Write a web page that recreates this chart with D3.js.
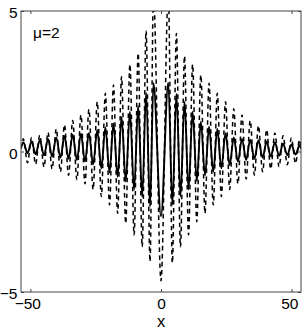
<!DOCTYPE html>
<html><head><meta charset="utf-8">
<script src="https://cdn.jsdelivr.net/npm/d3@7"></script>
<style>
html,body{margin:0;padding:0;background:#fff;}
svg{display:block;font-family:"Liberation Sans",Arial,sans-serif;}
</style></head>
<body>
<svg id="c" width="305" height="330"></svg>
<script>
// extremum positions (shared by both curves)
const xs = [-53.6,-52.7,-51.1,-49.55,-48.0,-46.4,-44.8,-43.25,-41.7,-40.1,-38.5,-36.95,-35.4,-33.8,-32.2,-30.65,-29.1,-27.6,-26.0,-24.4,-22.85,-21.3,-19.7,-18.2,-16.6,-15.1,-13.5,-11.9,-10.3,-8.75,-7.2,-5.7,-4.2,-2.9,0.0,2.8,4.35,5.9,7.45,9.0,10.55,12.1,13.7,15.25,16.85,18.4,20.0,21.55,23.1,24.7,26.3,27.85,29.45,31.0,32.6,34.15,35.75,37.3,38.9,40.45,42.0,43.6,45.2,46.75,48.35,49.9,51.5,53.05,53.6];
// solid curve values
const solidVals = [0.12,0.33,-0.06,0.36,-0.1,0.4,-0.14,0.45,-0.18,0.5,-0.22,0.55,-0.26,0.6,-0.3,0.63,-0.36,0.66,-0.46,0.76,-0.6,0.86,-0.75,1.0,-0.9,1.22,-1.07,1.42,-1.37,1.62,-1.62,2.1,-1.96,2.43,-2.3,2.45,-1.9,2.06,-1.6,1.77,-1.35,1.42,-1.05,1.06,-0.85,0.88,-0.72,0.8,-0.6,0.65,-0.48,0.5,-0.36,0.45,-0.3,0.42,-0.26,0.4,-0.22,0.36,-0.18,0.32,-0.15,0.28,-0.13,0.25,-0.11,0.22,0.1];
// dashed curve values
const dashedVals = [0.1,0.45,-0.4,0.5,-0.45,0.58,-0.55,0.68,-0.62,0.8,-0.72,0.95,-0.85,1.1,-1.0,1.3,-1.15,1.5,-1.35,1.77,-1.6,2.07,-1.9,2.37,-2.2,2.66,-2.56,3.1,-2.97,3.5,-3.39,4.3,-3.92,5.6,-4.6,5.6,-3.97,4.2,-3.39,3.4,-2.97,3.1,-2.5,2.72,-2.2,2.43,-1.9,2.07,-1.6,1.77,-1.35,1.52,-1.15,1.3,-0.98,1.1,-0.84,0.92,-0.72,0.78,-0.62,0.66,-0.54,0.56,-0.47,0.48,-0.42,0.42,0.1];
const xTicks = [-50,0,50];
const yTicks = [-5,0,5];
const xDomain = [-53.6,53.6];
const yDomain = [-5,5];
const labelText = "μ=2";
const xLabel = "x";

const svg = d3.select("#c");
const L=21,R=301,T=11,B=292;
const x = d3.scaleLinear().domain(xDomain).range([L,R]);
const y = d3.scaleLinear().domain(yDomain).range([B,T]);

svg.append("defs").append("clipPath").attr("id","clip")
  .append("rect").attr("x",L).attr("y",T).attr("width",R-L).attr("height",B-T);

const line = d3.line().x(d=>x(d[0])).y(d=>y(d[1])).curve(d3.curveMonotoneX);
const solid = xs.map((v,i)=>[v,solidVals[i]]);
const dashed = xs.map((v,i)=>[v,dashedVals[i]]);

const g = svg.append("g").attr("clip-path","url(#clip)");
g.append("path").datum(dashed).attr("d",line).attr("fill","none")
  .attr("stroke","#000").attr("stroke-width",1.5).attr("stroke-dasharray","4.5,3.5");
g.append("path").datum(solid).attr("d",line).attr("fill","none")
  .attr("stroke","#000").attr("stroke-width",1.9);

const axColor="#444";
const fs="15.5px";
const bx = svg.append("g").attr("transform",`translate(0,${B})`)
  .call(d3.axisBottom(x).tickValues(xTicks).tickSizeInner(-3).tickSizeOuter(0).tickPadding(6));
const tx = svg.append("g").attr("transform",`translate(0,${T})`)
  .call(d3.axisTop(x).tickValues(xTicks).tickSizeInner(-3).tickSizeOuter(0).tickFormat(""));
const ly = svg.append("g").attr("transform",`translate(${L},0)`)
  .call(d3.axisLeft(y).tickValues(yTicks).tickSizeInner(-3).tickSizeOuter(0).tickPadding(3.5));
const ry = svg.append("g").attr("transform",`translate(${R},0)`)
  .call(d3.axisRight(y).tickValues(yTicks).tickSizeInner(-3).tickSizeOuter(0).tickFormat(""));
[bx,tx,ly,ry].forEach(a=>{
  a.select(".domain").remove();
  a.selectAll("line").attr("stroke",axColor);
  a.selectAll("text").attr("font-size",fs).attr("fill","#000").attr("font-family","Liberation Sans, Arial, sans-serif");
});
bx.selectAll("text").attr("dx",d=>d<0?"-0.2em":(d>0?"-0.15em":"0"));
ly.selectAll("text").attr("dy","0.42em");
svg.append("rect").attr("x",L).attr("y",T).attr("width",R-L).attr("height",B-T)
  .attr("fill","none").attr("stroke",axColor).attr("stroke-width",1);

svg.append("text").attr("x",33).attr("y",38).attr("font-size",fs).text(labelText);
svg.append("text").attr("x",x(0)).attr("y",327).attr("text-anchor","middle").attr("font-size","16.5px").text(xLabel);
</script>
</body></html>
